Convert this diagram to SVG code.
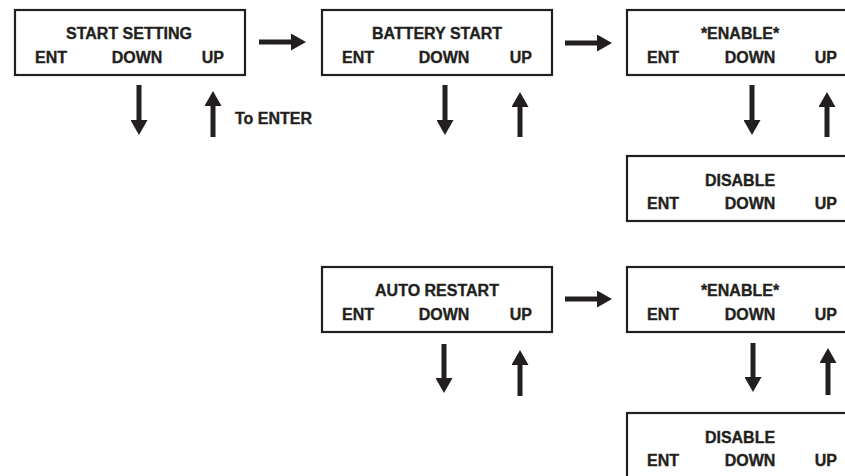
<svg xmlns="http://www.w3.org/2000/svg" width="845" height="476" viewBox="0 0 845 476">
<style>
.box{fill:#fff;stroke:#231f20;stroke-width:2.2}
text{font-family:"Liberation Sans",Arial,sans-serif;font-weight:bold;font-size:16px;fill:#231f20;stroke:#231f20;stroke-width:0.35}
.t{text-anchor:middle}
.m{text-anchor:middle}
.e{text-anchor:end}
.c{stroke:#231f20;stroke-width:5;fill:none;marker-end:url(#ah)}
</style>
<defs>
<marker id="ah" markerUnits="userSpaceOnUse" viewBox="0 0 15 17" refX="1" refY="8.5" markerWidth="15" markerHeight="17" orient="auto">
<path d="M0,0 L15,8.5 L0,17 Z" fill="#231f20"/>
</marker>
</defs>
<rect width="845" height="476" fill="#fff"/>
<g id="start-setting">
<rect class="box" x="15" y="10" width="230" height="65"/>
<text class="t" x="129" y="39">START SETTING</text>
<text x="35" y="63">ENT</text>
<text class="m" x="137" y="63">DOWN</text>
<text class="e" x="224" y="63">UP</text>
</g>
<g id="battery-start">
<rect class="box" x="322" y="10" width="230" height="65"/>
<text class="t" x="437" y="39">BATTERY START</text>
<text x="342" y="63">ENT</text>
<text class="m" x="444" y="63">DOWN</text>
<text class="e" x="532" y="63">UP</text>
</g>
<g id="battery-enable">
<rect class="box" x="627" y="10" width="230" height="65"/>
<text class="t" x="740" y="39">*ENABLE*</text>
<text x="647" y="63">ENT</text>
<text class="m" x="750" y="63">DOWN</text>
<text class="e" x="837" y="63">UP</text>
</g>
<g id="battery-disable">
<rect class="box" x="627" y="156" width="230" height="65"/>
<text class="t" x="740" y="186">DISABLE</text>
<text x="647" y="209">ENT</text>
<text class="m" x="750" y="209">DOWN</text>
<text class="e" x="837" y="209">UP</text>
</g>
<g id="auto-restart">
<rect class="box" x="322" y="267" width="230" height="65"/>
<text class="t" x="437" y="296">AUTO RESTART</text>
<text x="342" y="320">ENT</text>
<text class="m" x="444" y="320">DOWN</text>
<text class="e" x="532" y="320">UP</text>
</g>
<g id="auto-enable">
<rect class="box" x="627" y="267" width="230" height="65"/>
<text class="t" x="740" y="296">*ENABLE*</text>
<text x="647" y="320">ENT</text>
<text class="m" x="750" y="320">DOWN</text>
<text class="e" x="837" y="320">UP</text>
</g>
<g id="auto-disable">
<rect class="box" x="627" y="413" width="230" height="65"/>
<text class="t" x="740" y="443">DISABLE</text>
<text x="647" y="466">ENT</text>
<text class="m" x="750" y="466">DOWN</text>
<text class="e" x="837" y="466">UP</text>
</g>
<g id="to-enter-label">
<text x="235" y="124">To ENTER</text>
</g>
<g id="connectors">
<line class="c" x1="259" y1="42" x2="292" y2="42"/>
<line class="c" x1="565" y1="43" x2="598" y2="43"/>
<line class="c" x1="565" y1="299" x2="598" y2="299"/>
<line class="c" x1="139" y1="85" x2="139" y2="121"/>
<line class="c" x1="213" y1="137" x2="213" y2="105"/>
<line class="c" x1="445" y1="85" x2="445" y2="121"/>
<line class="c" x1="520" y1="137" x2="520" y2="106"/>
<line class="c" x1="752" y1="85" x2="752" y2="121"/>
<line class="c" x1="827" y1="137" x2="827" y2="106"/>
<line class="c" x1="444" y1="344" x2="444" y2="379"/>
<line class="c" x1="520" y1="396" x2="520" y2="364"/>
<line class="c" x1="753" y1="343" x2="753" y2="378"/>
<line class="c" x1="828" y1="395" x2="828" y2="362"/>
</g>
</svg>
